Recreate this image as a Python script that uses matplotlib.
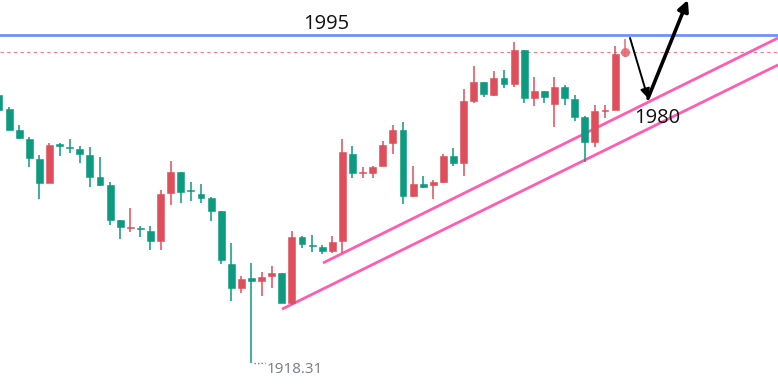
import matplotlib
matplotlib.use("Agg")
import matplotlib.pyplot as plt

# OHLC (one bar per candle, oldest first)
opens = [1981.0, 1977.7, 1972.8, 1970.7, 1966.0, 1960.4, 1969.3, 1968.8, 1968.3, 1966.9,
         1961.8, 1959.9, 1951.7, 1949.9, 1949.9, 1949.2, 1946.8, 1958.1, 1963.0, 1958.8,
         1957.8, 1956.9, 1953.9, 1941.5, 1935.9, 1938.2, 1937.5, 1938.7, 1939.4, 1932.3,
         1947.8, 1945.9, 1945.4, 1944.5, 1946.8, 1967.2, 1962.7, 1962.7, 1964.4, 1969.8,
         1972.8, 1957.4, 1960.2, 1959.9, 1960.6, 1966.7, 1965.1, 1979.6, 1984.0, 1981.0,
         1984.9, 1983.5, 1991.5, 1980.3, 1981.9, 1978.9, 1982.8, 1980.0, 1975.8, 1970.0,
         1977.2, 1977.5, 1990.6]
highs = [1981.4, 1978.2, 1974.0, 1971.2, 1966.9, 1969.8, 1969.8, 1970.7, 1969.1, 1968.8,
         1966.5, 1960.6, 1951.7, 1954.6, 1950.3, 1950.3, 1958.8, 1965.5, 1963.0, 1960.6,
         1960.2, 1957.1, 1953.9, 1946.4, 1938.7, 1941.7, 1939.6, 1941.0, 1939.4, 1949.2,
         1948.0, 1948.2, 1945.9, 1948.0, 1970.7, 1969.1, 1964.1, 1964.4, 1970.2, 1974.0,
         1974.7, 1964.4, 1962.0, 1961.1, 1967.2, 1968.6, 1982.4, 1987.8, 1984.0, 1986.6,
         1986.8, 1993.4, 1991.5, 1985.2, 1981.9, 1985.2, 1983.3, 1981.0, 1976.1, 1978.6,
         1978.6, 1992.4, 1994.1]
lows = [1977.0, 1972.8, 1970.7, 1964.1, 1956.7, 1960.4, 1966.7, 1967.4, 1965.1, 1959.5,
        1959.7, 1950.6, 1947.3, 1948.9, 1947.8, 1944.7, 1944.7, 1955.3, 1955.7, 1956.2,
        1955.7, 1951.5, 1941.5, 1932.8, 1934.7, 1918.31, 1934.0, 1935.9, 1932.3, 1931.9,
        1945.2, 1944.3, 1943.8, 1944.0, 1944.0, 1961.6, 1961.6, 1961.6, 1964.4, 1967.2,
        1955.5, 1957.1, 1959.2, 1956.7, 1960.4, 1964.4, 1962.0, 1979.1, 1980.5, 1980.7,
        1982.6, 1982.8, 1979.1, 1978.4, 1979.1, 1973.5, 1978.6, 1974.9, 1965.3, 1968.8,
        1975.6, 1977.5, 1989.9]
closes = [1977.5, 1972.8, 1970.9, 1966.2, 1960.4, 1969.3, 1969.1, 1968.6, 1967.2, 1961.8,
          1959.9, 1951.7, 1950.1, 1950.1, 1949.6, 1946.8, 1957.8, 1963.0, 1958.3, 1958.5,
          1956.9, 1953.9, 1942.4, 1935.9, 1938.0, 1937.5, 1938.4, 1939.4, 1932.3, 1947.8,
          1946.1, 1945.7, 1944.5, 1946.6, 1967.6, 1962.7, 1963.0, 1964.1, 1969.3, 1972.8,
          1957.4, 1960.2, 1959.5, 1960.6, 1966.7, 1965.1, 1979.6, 1984.0, 1981.2, 1984.9,
          1983.5, 1991.5, 1980.3, 1981.9, 1980.5, 1982.8, 1980.3, 1975.8, 1970.0, 1977.2,
          1977.5, 1990.6, 1991.0]

resist = 1995
support = 1980
low_label = "1918.31"
# trend lines: (bar index, price) end points
trend_a = ([32.08, 77.13], [1941.7, 1994.3])
trend_b = ([28.02, 77.13], [1930.9, 1988.0])

up_col = "#de4e5b"
down_col = "#0c9a80"

fig = plt.figure(figsize=(7.78, 3.89), dpi=100)
ax = fig.add_axes([0, 0, 1, 1])
ax.set_xlim(0.099, 77.13)
ax.set_ylim(1912.23, 2003.18)
ax.axis("off")

n = len(opens)
for i in range(n - 1):
    o, h, l, c = opens[i], highs[i], lows[i], closes[i]
    col = up_col if c >= o else down_col
    ax.vlines(i, l, h, color=col, lw=1.1, zorder=3)
    hgt = max(abs(c - o), 0.3)
    ax.bar(i, hgt, bottom=min(o, c), width=0.68, color=col, edgecolor=col, lw=0.4, zorder=4)

# last (live) bar drawn as a dot
i = n - 1
ax.vlines(i, lows[i], highs[i], color="#e46a74", lw=1.1, zorder=3)
ax.plot(i, closes[i], "o", ms=6.5, color="#e46a74", alpha=0.9, zorder=5, mec="none")

# levels
ax.axhline(resist, color="#6f93f5", lw=2, zorder=2)
ax.axhline(closes[-1], color="#f07c84", lw=0.8, ls=(0, (3, 3)), zorder=2)
ax.text(32.4, resist + 0.3, str(resist), ha="center", va="bottom", fontsize=14.5,
        family="Open Sans", color="#111111")

ax.plot(trend_a[0], trend_a[1], color="#ff5cb3", lw=2, zorder=2, solid_capstyle="butt")
ax.plot(trend_b[0], trend_b[1], color="#ff5cb3", lw=2, zorder=2, solid_capstyle="butt")

# low marker
ax.plot([25.2, 26.3], [lows[25], lows[25]], color="#787b86", lw=1, ls=(0, (1, 1.5)))
ax.text(26.5, lows[25] - 1.6, low_label, ha="left", va="center", fontsize=11,
        family="Open Sans", color="#787b86")

# arrows
ax.annotate("", xy=(64.26, support + 0.2), xytext=(62.48, 1994.3),
            arrowprops=dict(arrowstyle="-|>", color="black", lw=1.4, mutation_scale=14,
                            shrinkA=0, shrinkB=0), zorder=6)
ax.annotate("", xy=(68.2, 2003.2), xytext=(64.26, support + 0.2),
            arrowprops=dict(arrowstyle="-|>", color="black", lw=2.6, mutation_scale=16,
                            shrinkA=0, shrinkB=0), zorder=6)
ax.text(65.2, 1975.6, str(support), ha="center", va="center", fontsize=14.5,
        family="Open Sans", color="#111111")

fig.savefig("out.png", dpi=100)
